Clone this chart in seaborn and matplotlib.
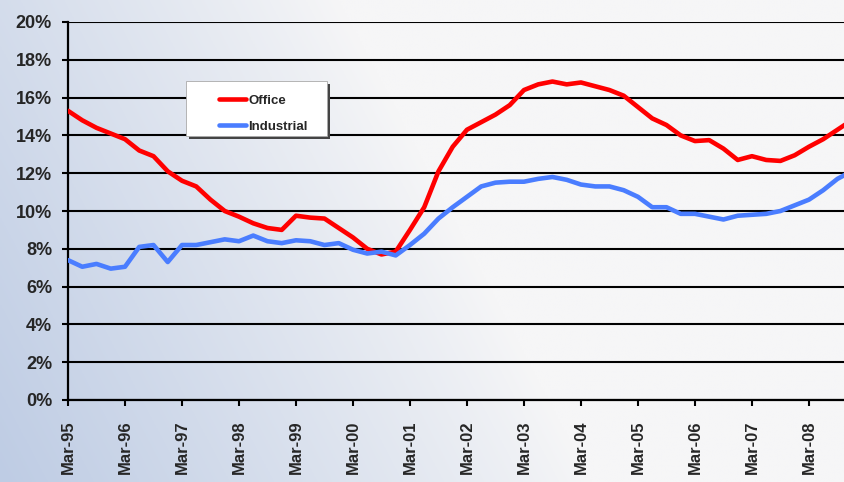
import matplotlib
matplotlib.use("Agg")
import matplotlib.pyplot as plt
from matplotlib.patches import Rectangle
import seaborn as sns
import pandas as pd
import numpy as np

sns.set_theme(style="white")
plt.rcParams["font.family"] = ["Liberation Sans", "DejaVu Sans"]
plt.rcParams["font.weight"] = "bold"

# quarterly vacancy rates (%), Mar-95 onward
office = [15.3, 14.8, 14.4, 14.1, 13.8, 13.2, 12.9, 12.1, 11.6, 11.3,
          10.6, 10.0, 9.7, 9.35, 9.1, 9.0, 9.75, 9.65, 9.6, 9.1,
          8.6, 8.0, 7.7, 7.85, 9.0, 10.2, 12.1, 13.4, 14.3, 14.7,
          15.1, 15.6, 16.4, 16.7, 16.85, 16.7, 16.8, 16.6, 16.4, 16.1,
          15.5, 14.9, 14.55, 14.0, 13.7, 13.75, 13.3, 12.7, 12.9, 12.7,
          12.65, 12.95, 13.4, 13.8, 14.3, 14.8]
industrial = [7.4, 7.05, 7.2, 6.95, 7.05, 8.1, 8.2, 7.3, 8.2, 8.2,
              8.35, 8.5, 8.4, 8.7, 8.4, 8.3, 8.45, 8.4, 8.2, 8.3,
              7.95, 7.75, 7.85, 7.65, 8.2, 8.8, 9.6, 10.2, 10.75, 11.3,
              11.5, 11.55, 11.55, 11.7, 11.8, 11.65, 11.4, 11.3, 11.3, 11.1,
              10.75, 10.2, 10.2, 9.85, 9.85, 9.7, 9.55, 9.75, 9.8, 9.85,
              10.0, 10.3, 10.6, 11.1, 11.7, 12.1]
year_labels = ["Mar-95", "Mar-96", "Mar-97", "Mar-98", "Mar-99", "Mar-00", "Mar-01",
               "Mar-02", "Mar-03", "Mar-04", "Mar-05", "Mar-06", "Mar-07", "Mar-08"]
y_ticks = [0, 2, 4, 6, 8, 10, 12, 14, 16, 18, 20]

quarters = np.arange(len(office))
df = pd.concat([
    pd.DataFrame({"quarter": quarters, "rate": office, "series": "Office"}),
    pd.DataFrame({"quarter": quarters, "rate": industrial, "series": "Industrial"}),
])

fig = plt.figure(figsize=(8.44, 4.82), dpi=100)

# gradient background, bluish toward the lower left
bg = fig.add_axes([0, 0, 1, 1], zorder=-10)
xx, yy = np.meshgrid(np.linspace(0, 1, 400), np.linspace(0, 1, 240))
blue = np.clip(1 - (xx + 0.3 * (1 - yy)) / 0.7, 0, 1)[..., None] ** 0.9
c_blue = np.array([190, 204, 228]) / 255
c_white = np.array([246, 246, 247]) / 255
img = c_white * (1 - blue) + c_blue * blue
bg.imshow(img, aspect="auto", extent=[0, 1, 0, 1], origin="upper")
bg.axis("off")

ax = fig.add_axes([68 / 844, 1 - 400 / 482, 1 - 68 / 844, 378 / 482])
ax.patch.set_alpha(0)

sns.lineplot(data=df, x="quarter", y="rate", hue="series",
             palette={"Office": "#ff0000", "Industrial": "#4a7dff"},
             linewidth=3.3, ax=ax, legend=False, zorder=3)

ax.set_xlim(0, 54.46)
ax.set_ylim(0, 20)
ax.set_xlabel("")
ax.set_ylabel("")

ax.set_yticks(y_ticks)
ax.set_yticklabels([f"{v}%" for v in y_ticks], fontsize=13, fontweight="bold")
ax.set_xticks(np.arange(len(year_labels)) * 4)
ax.set_xticklabels(year_labels, rotation=90, fontsize=12, fontweight="bold")
ax.tick_params(axis="x", direction="out", length=4, width=1.5, color="black", pad=11, bottom=True)
ax.tick_params(axis="y", direction="out", length=4.5, width=1.5, color="black", pad=7, left=True)

ax.yaxis.grid(True, color="black", linewidth=1.5)
ax.xaxis.grid(False)
ax.set_axisbelow(True)
for side in ["top", "right"]:
    ax.spines[side].set_visible(False)
for side in ["left", "bottom"]:
    ax.spines[side].set_color("black")
    ax.spines[side].set_linewidth(1.6)

# legend box with shadow
bx, by, bw, bh = 118 / 776, (400 - 136) / 378, 141 / 776, 55 / 378
ax.add_patch(Rectangle((bx + 3 / 776, by - 3 / 378), bw, bh, transform=ax.transAxes,
                       facecolor="#444444", edgecolor="none", zorder=4))
ax.add_patch(Rectangle((bx, by), bw, bh, transform=ax.transAxes,
                       facecolor="white", edgecolor="#aaaaaa", linewidth=0.6, zorder=4.5))
handles = [plt.Line2D([], [], color="#ff0000", linewidth=3.3),
           plt.Line2D([], [], color="#4a7dff", linewidth=3.3)]
leg = ax.legend(handles, ["Office", "Industrial"], loc="upper left",
                bbox_to_anchor=(144 / 776, (400 - 88) / 378), frameon=False,
                borderpad=0, handlelength=2.1, handletextpad=0.15, labelspacing=1.05,
                prop={"size": 9.5, "weight": "bold"})
leg.set_zorder(6)

fig.savefig("out.png", dpi=100)
